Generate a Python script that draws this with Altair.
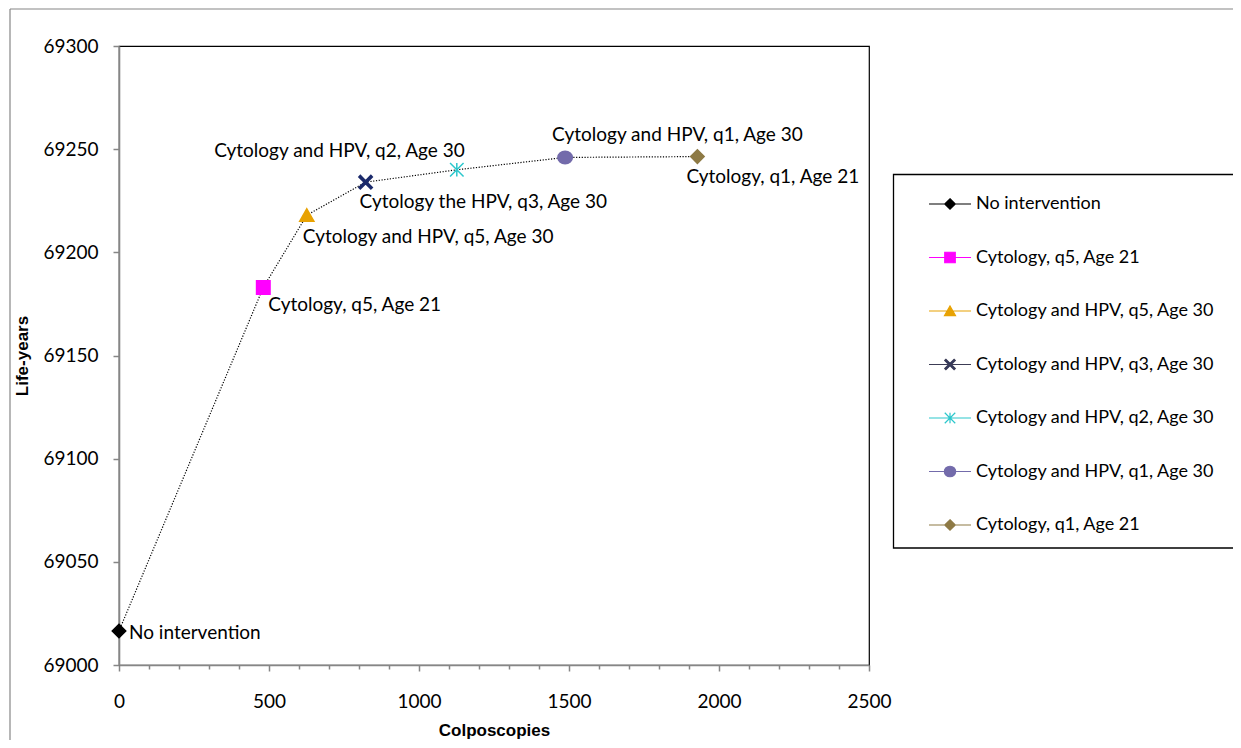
import altair as alt
import pandas as pd

# ---------------- data ----------------
names = [
    "No intervention",
    "Cytology, q5, Age 21",
    "Cytology and HPV, q5, Age 30",
    "Cytology and HPV, q3, Age 30",
    "Cytology and HPV, q2, Age 30",
    "Cytology and HPV, q1, Age 30",
    "Cytology, q1, Age 21",
]
point_labels = [
    "No intervention",
    "Cytology, q5, Age 21",
    "Cytology and HPV, q5, Age 30",
    "Cytology the HPV, q3, Age 30",
    "Cytology and HPV, q2, Age 30",
    "Cytology and HPV, q1, Age 30",
    "Cytology, q1, Age 21",
]
colposcopies = [0, 481, 626, 822, 1126, 1487, 1928]
life_years = [69016.5, 69183, 69218, 69234, 69240, 69246, 69246.4]
x_ticks = list(range(0, 2501, 100))   # major every 500 (labelled), minor every 100
y_ticks = [69000, 69050, 69100, 69150, 69200, 69250, 69300]
colors = ["#000000", "#FF00FF", "#E8A202", "#1B2A6B", "#2CC7CC", "#736BAB", "#8E7A45"]
legend_line_colors = ["#000000", "#FF00FF", "#E8A202", "#3C3C55", "#2CC7CC", "#736BAB", "#8E7A45"]

df = pd.DataFrame({"name": names, "label": point_labels, "x": colposcopies, "y": life_years})

# ---------------- marker paths (style) ----------------
def f(v):
    s = f"{v:.3f}".rstrip("0").rstrip(".")
    return "0" if s in ("-0", "") else s

def poly(pts, s, cx):
    return "M" + "L".join(f"{f(cx + px * s)},{f(py * s)}" for px, py in pts) + "Z"

K = 0.22
DIAMOND = [(0, -1), (1, 0), (0, 1), (-1, 0)]
SQUARE = [(-1, -1), (1, -1), (1, 1), (-1, 1)]
TRIANGLE = [(0, -0.9), (1, 0.85), (-1, 0.85)]
XSHAPE = [(-1, -1 + K), (-1 + K, -1), (0, -K), (1 - K, -1), (1, -1 + K), (K, 0),
          (1, 1 - K), (1 - K, 1), (0, K), (-1 + K, 1), (-1, 1 - K), (-K, 0)]

def star(s, cx):
    return (f"M{f(cx - s)},{f(-s)}L{f(cx + s)},{f(s)}M{f(cx + s)},{f(-s)}L{f(cx - s)},{f(s)}"
            f"M{f(cx)},{f(-s)}L{f(cx)},{f(s)}")

def ellipse(rx, ry, cx):
    return (f"M{f(cx - rx)},0A{f(rx)},{f(ry)} 0 1,0 {f(cx + rx)},0"
            f"A{f(rx)},{f(ry)} 0 1,0 {f(cx - rx)},0Z")

def marker_set(s, cx, ex, ey):
    return [poly(DIAMOND, s, cx), poly(SQUARE, s, cx), poly(TRIANGLE, s * 1.05, cx),
            poly(XSHAPE, s, cx), star(s, cx), ellipse(ex, ey, cx), poly(DIAMOND, s, cx)]

plot_markers = marker_set(1.0, 0.0, 1.075, 0.93)
LCX = 1.286
legend_markers = [f"M{f(LCX - 1)},0L{f(LCX + 1)},0" + m for m in marker_set(0.25, LCX, 0.27, 0.25)]

# ---------------- chart ----------------
GRAY = "#868686"
FONT = "Lato"
BOLD = "Liberation Sans"

x_scale = alt.Scale(domain=[0, 2500], nice=False, zero=False)
y_scale = alt.Scale(domain=[69000, 69300], nice=False, zero=False)

base = alt.Chart(df)

x_axis = alt.Axis(
    values=x_ticks,
    tickSize={"condition": {"test": "datum.value % 500 === 0", "value": 6}, "value": 4},
    labelExpr="datum.value % 500 === 0 ? datum.label : ''",
    labelPadding=21, title="Colposcopies", titleFont=BOLD, titleFontWeight="bold",
    titleFontSize=17, titlePadding=11, labelFlush=False, labelOverlap=False,
    grid=False, format="d",
)
y_axis = alt.Axis(
    values=y_ticks, tickSize=6, labelPadding=15, title="Life-years", titleFont=BOLD,
    titleFontWeight="bold", titleFontSize=17, titlePadding=11, labelFlush=False,
    labelOverlap=False, grid=False, format="d",
)

X = alt.X("x:Q", scale=x_scale, axis=x_axis)
Y = alt.Y("y:Q", scale=y_scale, axis=y_axis)

line = base.mark_line(color="black", strokeWidth=1.2, strokeDash=[1.2, 1.6]).encode(x=X, y=Y)

points = base.mark_point(filled=True, size=182, strokeWidth=1.5, opacity=1).encode(
    x=X, y=Y,
    fill=alt.Fill("name:N", scale=alt.Scale(domain=names, range=colors), legend=None),
    stroke=alt.Stroke("name:N", scale=alt.Scale(domain=names, range=colors), legend=None),
    shape=alt.Shape("name:N", scale=alt.Scale(domain=names, range=plot_markers), legend=None),
)

leg = alt.Legend(orient="none", legendX=774, legendY=128, title=None, padding=8,
                 symbolSize=1764, symbolStrokeWidth=1.2, symbolOpacity=1,
                 labelFont=FONT, labelFontSize=18, labelColor="black",
                 labelOffset=31, labelLimit=400, rowPadding=22.5)

legend_layer = base.transform_filter("false").mark_point(filled=True, strokeWidth=1.2, opacity=1).encode(
    x=X, y=Y,
    fill=alt.Fill("name:N", scale=alt.Scale(domain=names, range=colors), legend=leg),
    stroke=alt.Stroke("name:N", scale=alt.Scale(domain=names, range=legend_line_colors), legend=leg),
    shape=alt.Shape("name:N", scale=alt.Scale(domain=names, range=legend_markers), legend=leg),
)

# label placement (style): name -> (align, dx, dy)
label_style = {
    names[0]: ("left", 10, 2),
    names[1]: ("left", 5, 18),
    names[2]: ("left", -4, 22),
    names[3]: ("left", -6, 20),
    names[4]: ("right", 8, -19),
    names[5]: ("left", -13, -22),
    names[6]: ("left", -11, 20),
}
text_layers = []
for n, (al, dx, dy) in label_style.items():
    text_layers.append(
        base.transform_filter(alt.datum.name == n).mark_text(
            align=al, baseline="middle", dx=dx, dy=dy, font=FONT, fontSize=19, color="black"
        ).encode(x=X, y=Y, text="label:N")
    )

# decorative frames (chart border and legend box, which run off the page edge)
one = alt.Data(values=[{"k": 1}])
frame_left = alt.Chart(one).mark_rule(color=GRAY, strokeWidth=1.2).encode(
    x=alt.value(-109), x2=alt.value(-109), y=alt.value(-37), y2=alt.value(700))
frame_top = alt.Chart(one).mark_rule(color=GRAY, strokeWidth=1.2).encode(
    x=alt.value(-109), x2=alt.value(1120), y=alt.value(-37), y2=alt.value(-37))
legend_box = alt.Chart(one).mark_rect(fill="white", stroke="black", strokeWidth=1.3).encode(
    x=alt.value(774.5), x2=alt.value(1130), y=alt.value(128.5), y2=alt.value(502))

chart = alt.layer(frame_left, frame_top, legend_box, line, legend_layer, points, *text_layers).resolve_scale(
    fill="independent", stroke="independent", shape="independent"
).properties(
    width=750, height=619,
    autosize=alt.AutoSizeParams(type="none"),
    padding={"left": 111, "top": 38, "right": 364, "bottom": 75},
    background="white",
).configure_view(stroke="black", strokeWidth=1.2).configure_axis(
    labelFont=FONT, labelFontSize=19, labelColor="black", tickColor=GRAY, tickWidth=1.5,
    domainColor=GRAY, domainWidth=1.6, titleColor="black",
)

chart.save("out.html", embed_options={"renderer": "svg", "actions": False})
